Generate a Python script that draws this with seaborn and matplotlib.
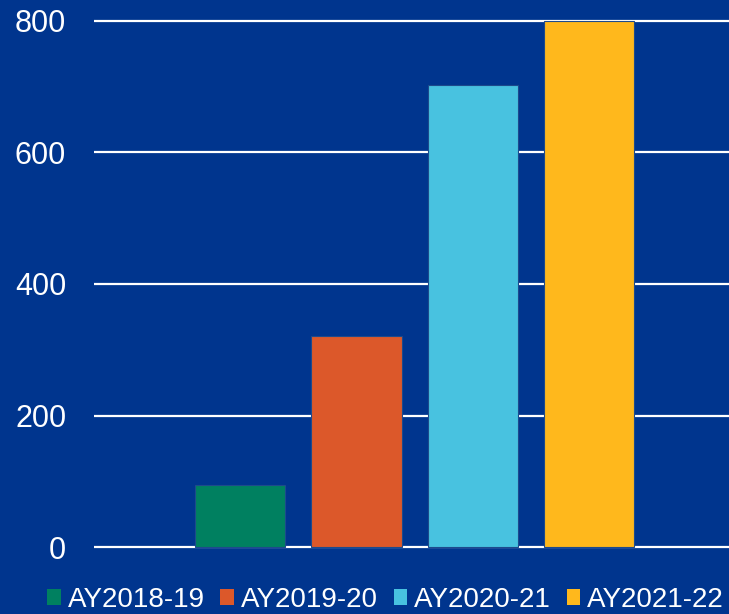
import matplotlib
matplotlib.use("Agg")
import matplotlib.pyplot as plt
from matplotlib.patches import Patch
import pandas as pd
import seaborn as sns

years = ["AY2018-19", "AY2019-20", "AY2020-21", "AY2021-22"]
counts = [94, 321, 703, 800]
colors = ["#008060", "#DC582A", "#48C2E0", "#FFB81C"]
yticks = [0, 200, 400, 600, 800]

bg = "#00358E"

sns.set_style("white")
plt.rcParams["font.family"] = ["Liberation Sans", "DejaVu Sans"]

df = pd.DataFrame({"grp": [""] * len(years), "year": years, "count": counts})

fig = plt.figure(figsize=(7.29, 6.14), dpi=100)
fig.patch.set_facecolor(bg)
ax = fig.add_axes([94 / 729, (614 - 549) / 614, 635 / 729, 530 / 614])
ax.set_facecolor(bg)

sns.barplot(data=df, x="grp", y="count", hue="year", palette=colors,
            saturation=1, width=0.733, gap=0.224, ax=ax, legend=False,
            edgecolor="#1d4a8c", linewidth=0.8, zorder=3)

ax.set_xlim(-0.505, 0.495)
ax.set_ylim(-3, 803)
ax.set_yticks(yticks)
ax.set_xticks([])
ax.yaxis.grid(True, color="white", linewidth=1.6, zorder=0)
ax.set_axisbelow(True)
for s in ax.spines.values():
    s.set_visible(False)
ax.tick_params(axis="y", length=0, pad=20, labelsize=22, labelcolor="white")
ax.set_xlabel("")
ax.set_ylabel("")

handles = [Patch(facecolor=c, edgecolor="none") for c in colors]
fig.legend(handles, years, loc="lower center", bbox_to_anchor=(0.529, -0.03),
           ncol=4, frameon=False, fontsize=20, labelcolor="white",
           handlelength=0.5, handleheight=0.5, handletextpad=0.25,
           columnspacing=0.55, borderpad=0.2)

fig.savefig("out.png", dpi=100, facecolor=bg)
